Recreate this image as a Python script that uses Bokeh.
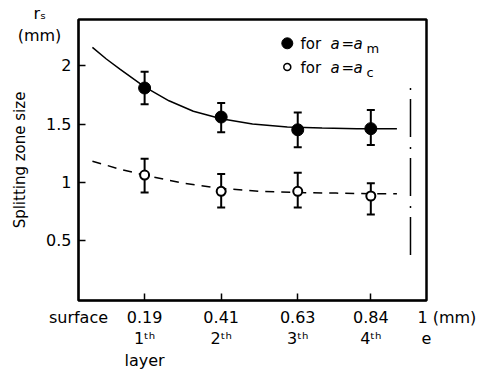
from bokeh.plotting import figure
from bokeh.models import (Range1d, FixedTicker, Label, Whisker, TeeHead, ColumnDataSource)
from bokeh.embed import file_html
from bokeh.resources import INLINE

# ---- data ----
depth = [0.19, 0.41, 0.63, 0.84]
rs_m = [1.81, 1.56, 1.45, 1.46]
rs_m_hi = [1.95, 1.68, 1.60, 1.62]
rs_m_lo = [1.67, 1.43, 1.30, 1.32]
rs_c = [1.06, 0.92, 0.92, 0.88]
rs_c_hi = [1.20, 1.07, 1.08, 0.99]
rs_c_lo = [0.91, 0.78, 0.78, 0.72]

fit_m_x = [0.04, 0.08, 0.12, 0.19, 0.26, 0.33, 0.41, 0.50, 0.60, 0.70, 0.80, 0.915]
fit_m_y = [2.16, 2.06, 1.97, 1.82, 1.70, 1.61, 1.545, 1.50, 1.475, 1.465, 1.46, 1.46]
fit_c_x = [0.04, 0.12, 0.19, 0.30, 0.41, 0.52, 0.63, 0.74, 0.84, 0.915]
fit_c_y = [1.18, 1.11, 1.06, 0.99, 0.945, 0.92, 0.91, 0.905, 0.90, 0.90]

limit_x = [0.954, 0.954]
limit_y = [1.81, 0.30]

NB = "\u00a0"
x_label_pos = [0.0, 0.19, 0.41, 0.63, 0.84, 1.0]
x_labels = ["surface", "0.19\n1ᵗʰ\nlayer", "0.41\n2ᵗʰ", "0.63\n3ᵗʰ", "0.84\n4ᵗʰ",
            NB * 8 + "1 (mm)\ne"]
x_tick_marks = [0.19, 0.41, 0.63, 0.84]
y_label_pos = [0.5, 1.0, 1.5, 2.0, 2.36]
y_labels = ["0.5", "1", "1.5", "2", "rₛ" + NB * 5 + "\n(mm)" + NB * 2]
y_tick_marks = [0.5, 1.0, 1.5, 2.0]

FONT = "DejaVu Sans"

p = figure(width=491, height=378, output_backend="svg", toolbar_location=None,
           x_range=Range1d(0, 1), y_range=Range1d(-0.02, 2.4),
           min_border_left=78, min_border_right=65, min_border_top=19, min_border_bottom=78)
p.xgrid.visible = False
p.ygrid.visible = False
p.outline_line_color = "black"
p.outline_line_width = 2.5
p.outline_line_alpha = 1.0

for ax in (p.xaxis[0], p.yaxis[0]):
    ax.axis_line_width = 1.5
    ax.axis_line_color = "black"
    ax.major_tick_in = 0
    ax.major_tick_out = 0
    ax.minor_tick_in = 7
    ax.minor_tick_out = 0
    ax.minor_tick_line_width = 1.5
    ax.minor_tick_line_color = "black"
    ax.major_label_text_font = FONT
    ax.major_label_text_font_size = "16px"
    ax.major_label_text_color = "black"
    ax.major_label_text_line_height = 1.15

p.xaxis.ticker = FixedTicker(ticks=x_label_pos, minor_ticks=x_tick_marks)
p.xaxis.major_label_overrides = {t: l for t, l in zip(x_label_pos, x_labels)}
p.xaxis.major_label_standoff = 7
p.yaxis.ticker = FixedTicker(ticks=y_label_pos, minor_ticks=y_tick_marks)
p.yaxis.major_label_overrides = {t: l for t, l in zip(y_label_pos, y_labels)}
p.yaxis.major_label_standoff = 7
p.yaxis.axis_label = "Splitting zone size"
p.yaxis.axis_label_text_font = FONT
p.yaxis.axis_label_text_font_size = "15px"
p.yaxis.axis_label_text_font_style = "normal"
p.yaxis.axis_label_text_color = "black"
p.yaxis.axis_label_standoff = -14

# fitted curves and limit line
p.line(fit_m_x, fit_m_y, line_color="black", line_width=1.5)
p.line(fit_c_x, fit_c_y, line_color="black", line_width=1.5, line_dash="9 7")
p.line(limit_x, limit_y, line_color="black", line_width=1.5, line_dash="2 9 38 10")

# error bars
src_m = ColumnDataSource(dict(x=depth, y=rs_m, hi=rs_m_hi, lo=rs_m_lo))
src_c = ColumnDataSource(dict(x=depth, y=rs_c, hi=rs_c_hi, lo=rs_c_lo))
for src in (src_m, src_c):
    w = Whisker(source=src, base="x", upper="hi", lower="lo", dimension="height",
                line_color="black", line_width=2,
                upper_head=TeeHead(size=8, line_width=2, line_color="black"),
                lower_head=TeeHead(size=8, line_width=2, line_color="black"))
    p.add_layout(w)

p.scatter("x", "y", source=src_m, size=12, fill_color="black", line_color="black")
p.scatter("x", "y", source=src_c, size=9, fill_color="white", line_color="black", line_width=2)

# ---- legend (inside the frame, canvas pixels) ----
def lab(text, px, py, size="15px", align="left", style="normal"):
    p.add_layout(Label(x=px, y=py, x_units="canvas", y_units="canvas", text=text,
                       text_font=FONT, text_font_size=size, text_align=align,
                       text_baseline="middle", text_font_style=style, text_color="black"))

p.scatter([0.6], [2.195], size=11, fill_color="black", line_color="black")
p.scatter([0.6], [1.99], size=7, fill_color="white", line_color="black", line_width=1.5)
for row_y, sub in ((43, "m"), (67, "c")):
    lab("for", 300, row_y)
    lab("a", 330, row_y, style="italic")
    lab("=", 341, row_y)
    lab("a", 353, row_y, style="italic")
    lab(sub, 366, row_y + 5, size="13px")

open("out.html", "w").write(file_html(p, INLINE))
